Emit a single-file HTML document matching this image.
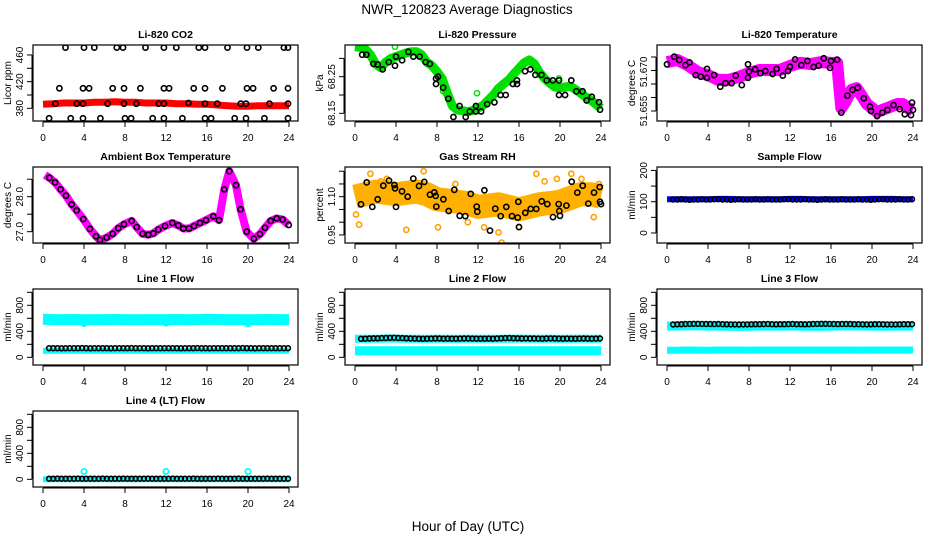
<!DOCTYPE html>
<html><head><meta charset="utf-8"><title>NWR_120823 Average Diagnostics</title>
<style>
html,body{margin:0;padding:0;background:#fff;}
svg{display:block;font-family:"Liberation Sans",Arial,sans-serif;}
</style></head>
<body>
<svg id="chart" width="936" height="540" viewBox="0 0 936 540" xmlns="http://www.w3.org/2000/svg">
<rect x="0" y="0" width="936" height="540" fill="#fff"/>
<text x="467" y="14" text-anchor="middle" font-size="13.5">NWR_120823  Average Diagnostics</text>
<text x="468" y="531" text-anchor="middle" font-size="13.5">Hour of Day (UTC)</text>
</svg>
<script>
// ---------- data ----------
const xTicks = [0,4,8,12,16,20,24];
const bandHours = [0,1,2,3,4,5,6,7,8,9,10,11,12,13,14,15,16,17,18,19,20,21,22,23,24];

const co2Hours = [2.2,4,5,7.2,7.8,10,11.8,13,15.2,15.8,18,19.9,21,23.5,23.9,
 1.6,3.9,4.5,6.8,7.9,9.5,11.8,12.3,14.7,15.8,17.5,19.9,20.5,22.5,23.9,
 1.2,3.3,3.9,6.3,7.9,9.1,11.3,11.8,14.2,15.8,17,19.3,19.8,22.1,23.9,
 0.6,2.7,3.9,5.6,8,8.6,10.7,11.8,13.6,15.8,16.4,18.7,19.8,21.6,23.9];
const co2Vals = [471,471,471,471,471,471,471,471,471,471,471,471,471,471,471,
 410,410,410,410,410,410,410,410,410,410,410,410,410,410,410,
 387,387,387,387,387,387,387,387,388,387,387,387,387,387,387,
 365,365,365,365,365,365,365,365,365,365,365,365,365,365,365];
const co2Band = [386,387,388,388,388,389,389,390,389,389,388,388,388,387,387,386,386,385,384,383,383,384,384,384,384];

const presBandH = [0,0.5,1,1.5,2,2.5,3,3.5,4,4.5,5,5.5,6,6.5,7,7.5,8,8.5,9,9.5,10,10.5,11,11.5,12,12.5,13,13.5,14,14.5,15,15.5,16,16.5,17,17.5,18,18.5,19,19.5,20,20.5,21,21.5,22,22.5,23,23.5,24];
const presBand = [68.332,68.330,68.325,68.31,68.285,68.275,68.29,68.30,68.305,68.31,68.315,68.318,68.318,68.31,68.29,68.28,68.264,68.245,68.205,68.17,68.159,68.157,68.154,68.158,68.164,68.172,68.186,68.2,68.218,68.23,68.241,68.258,68.273,68.288,68.296,68.285,68.262,68.245,68.232,68.222,68.22,68.222,68.224,68.215,68.205,68.195,68.186,68.175,68.164];
const presH = [0.7,1.1,1.8,2.2,2.7,3.3,3.9,4,4.6,5.2,5.7,6.3,6.9,7.3,7.9,7.9,8.1,8.6,9.1,9.6,10.2,10.8,11.2,11.8,11.8,12.3,12.9,13.6,14.2,14.7,15.4,15.8,15.8,16.6,17.1,17.6,18.2,18.7,19.3,19.9,19.9,20.5,21.1,21.6,22.2,22.6,23.1,23.8,23.9];
const presVals = [68.31,68.31,68.285,68.283,68.27,68.29,68.28,68.305,68.295,68.318,68.305,68.305,68.29,68.285,68.245,68.23,68.25,68.22,68.19,68.14,68.17,68.14,68.155,68.17,68.155,68.155,68.175,68.18,68.2,68.2,68.23,68.24,68.23,68.265,68.27,68.255,68.255,68.24,68.24,68.24,68.2,68.2,68.24,68.21,68.21,68.185,68.195,68.18,68.16];
const presOutH = [3.9,8.6,11.9,19.9];
const presOut = [68.332,68.21,68.205,68.245];

const tempBandH = [0,1,2,3,4,5,6,7,8,9,10,11,12,13,14,15,16,16.6,17,17.5,18,18.5,19,19.5,20,20.5,21,21.5,22,22.5,23,23.5,24];
const tempBand = [51.6731,51.6739,51.6720,51.6694,51.6683,51.6665,51.6665,51.6676,51.6691,51.6702,51.6702,51.6702,51.6717,51.6728,51.6724,51.6731,51.6728,51.6728,51.6561,51.6591,51.6628,51.6635,51.6606,51.6576,51.6561,51.6546,51.6554,51.6561,51.6569,51.6576,51.6576,51.6561,51.6554];
const tempH = [0,0.7,1.2,1.8,2.2,2.8,3.3,3.9,3.9,4.6,5.2,5.7,6.3,6.7,7.3,7.9,7.9,8,8.6,9.1,9.6,10.3,10.7,11.3,11.8,12,12.5,13.1,13.7,14.3,14.8,15.3,15.9,16,16.6,17,17.6,18.1,18.6,19.2,19.8,19.9,20.5,21,21.5,22.1,22.7,23.2,23.8,23.9,24];
const tempVals = [51.6723,51.6751,51.6739,51.6720,51.6730,51.6683,51.6677,51.6673,51.6706,51.6683,51.6640,51.6653,51.6653,51.6681,51.6646,51.6673,51.6723,51.6696,51.6704,51.6690,51.6698,51.6687,51.6706,51.6681,51.6698,51.6714,51.6741,51.6720,51.6735,51.6713,51.6718,51.6745,51.6710,51.6735,51.6740,51.6544,51.6607,51.6628,51.6636,51.6597,51.6566,51.6550,51.6531,51.6544,51.6554,51.6572,51.6557,51.6538,51.6535,51.6581,51.6554];

const ambH = [0.2,0.62,1.17,1.72,2.24,2.8,3.28,3.93,4.58,5.17,5.56,6.21,6.8,7.35,7.9,8.65,9.14,9.72,10.28,10.76,11.25,11.9,12.62,13.2,13.69,14.24,14.73,15.32,15.9,16.61,17.17,17.69,18.18,18.83,19.28,19.87,20.58,21.17,21.66,22.21,22.8,23.38,23.97];
const ambVals = [28.62,28.54,28.41,28.21,28.03,27.78,27.61,27.36,27.08,26.87,26.76,26.83,26.94,27.10,27.21,27.31,27.13,26.94,26.91,26.95,27.06,27.16,27.25,27.18,27.09,27.09,27.16,27.25,27.33,27.44,27.33,28.21,28.73,28.33,27.64,27.00,26.80,26.93,27.11,27.31,27.38,27.35,27.19];

const rhBand = [1.10,1.11,1.12,1.115,1.11,1.115,1.12,1.11,1.09,1.085,1.08,1.075,1.06,1.065,1.07,1.06,1.05,1.06,1.07,1.075,1.08,1.095,1.11,1.11,1.10];
const rhOutH = [0.1,0.4,1.5,3.1,5,6.7,8.1,12.6,14,14.3,16,17.7,19.7,21.1,22.1,23.3,2.5,9.8,11,18.5,23.8];
const rhOut = [1.03,0.99,1.19,1.17,0.97,1.20,0.98,0.98,0.96,0.92,0.98,1.19,1.17,1.19,1.17,1.02,1.16,1.15,1.0,1.16,1.15];
const rhH = [0.59,1.14,1.69,2.21,2.76,3.32,3.84,3.9,4.0,4.59,5.14,5.69,6.24,6.76,7.32,7.74,7.87,7.93,8.62,9.14,9.69,10.21,10.76,11.29,11.87,11.93,12.62,13.17,13.69,14.21,14.76,15.32,15.87,15.93,16.0,16.61,17.14,17.69,18.21,18.76,19.32,19.87,19.93,20.0,20.62,21.14,21.69,22.21,22.76,23.32,23.87,23.9,24.0];
const rhVals = [1.070,1.156,1.060,1.090,1.143,1.163,1.146,1.133,1.060,1.121,1.100,1.171,1.142,1.158,1.108,1.117,1.103,1.061,1.090,1.044,1.127,1.025,1.024,1.111,1.061,1.041,1.125,0.967,1.053,1.024,1.060,1.024,1.018,1.080,0.981,1.037,1.052,1.052,1.082,1.071,1.020,1.071,1.044,1.025,1.065,1.159,1.116,1.143,1.073,1.116,1.138,1.080,1.071];

const sampleBand = [108,108,108,108,108,109,109,108,108,108,108,108,109,109,108,108,108,108,108,108,109,109,109,108,108];
const sampleBlack = [107,107,108,107,106,107,107,108,107,107,108,108,107,107,106,107,108,107,107,107,108,107,107,108,107,107,107,108,108,107,107,107,108,107,107,106,107,108,107,107,107,108,107,107,107,108,107,107,106,107,108,108,107,107,107,108,107,107,108];

const line1Upper = [585,580,580,582,578,580,580,582,580,578,580,580,580,582,580,580,585,582,580,580,578,580,582,580,580];
const line1Lower = [100,100,100,100,100,100,100,100,100,100,100,100,100,100,100,100,100,100,100,100,100,100,100,100,100];
const line1OutH = [4,12,20];
const line1Out = [520,525,515];
const line1Black = [140,141,140,139,140,141,140,140,142,140,139,140,141,140,140,139,140,141,140,140,142,141,140,140,139,140,141,140,140,140,141,140,139,140,140,141,142,140,140,139,140,141,140,140,140,141,140,142,140,140,139,140,141,140,140,140,141,140,140];

const line2Upper = [285,285,286,290,288,286,285,284,285,285,284,285,285,285,285,286,288,287,285,285,284,285,285,285,285];
const line2Lower = [100,100,100,100,100,100,100,100,100,100,100,100,100,100,100,100,100,100,100,100,100,100,100,100,100];
const line2Black = [285,287,290,292,293,295,297,300,302,298,295,293,290,288,287,285,286,288,290,289,287,288,287,286,288,289,290,288,287,286,287,288,287,290,292,295,297,294,292,290,291,290,289,288,287,290,291,289,288,287,288,287,286,288,289,288,287,288,290];

const line3Upper = [480,482,485,484,482,480,478,476,478,480,480,481,482,480,479,478,480,484,483,482,480,478,480,480,480];
const line3Lower = [110,110,112,111,110,112,113,112,111,112,113,112,112,113,112,112,111,112,112,111,113,113,112,112,111];
const line3Black = [505,508,510,512,514,515,516,514,513,512,511,512,510,508,507,506,505,506,507,508,509,510,511,512,510,508,509,510,511,512,510,509,508,510,512,514,515,516,514,512,511,512,513,512,510,509,508,507,508,509,510,508,507,506,507,508,509,510,510];

const line4Lower = [0,0,0,0,0,0,0,0,0,0,0,0,0,0,0,0,0,0,0,0,0,0,0,0,0];
const line4OutH = [4,12,20];
const line4Out = [120,120,120];
const line4Black = [10,10,11,10,9,10,10,11,10,10,10,9,10,11,10,10,10,10,11,10,9,10,10,10,11,10,10,10,9,10,11,10,10,10,10,11,10,10,9,10,10,11,10,10,10,10,11,10,10,9,10,10,10,11,10,10,10,10,10];

// ---------- rendering ----------
const NS = 'http://www.w3.org/2000/svg';
const svg = document.getElementById('chart');
function node(tag, parent, attrs) {
  const e = document.createElementNS(NS, tag);
  for (const k in attrs) e.setAttribute(k, attrs[k]);
  parent.appendChild(e);
  return e;
}

function makePanel(c, r, key, title, ylab, ymin, ymax, yticks, ylabels) {
  const L = 33 + 312 * c, R = 298 + 312 * c, T = 45 + 122 * r, B = 121 + 122 * r;
  const g = node('g', svg, {});
  
  
  const x = h => L + 10 + h * 10.25;
  const y = v => B - (v - ymin) / (ymax - ymin) * (B - T);
  const t = node('text', g, {x: (L + R) / 2, y: T - 7, 'text-anchor': 'middle', 'font-size': 10.5, 'font-weight': 'bold'});
  t.textContent = title;
  
  
  const yl = node('text', g, {x: 0, y: 0, 'text-anchor': 'middle', 'font-size': 10, transform: 'translate(' + (L - 22) + ',' + ((T + B) / 2) + ') rotate(-90)'});
  yl.textContent = ylab;
  
  
  const xa = node('g', g, {stroke: '#000', 'stroke-width': 1});
  
  
  node('line', xa, {x1: x(0), x2: x(24), y1: B + 1, y2: B + 1});
  xTicks.forEach(v => {
    node('line', xa, {x1: x(v), x2: x(v), y1: B + 1, y2: B + 6});
    const tl = node('text', g, {x: x(v), y: B + 20, 'text-anchor': 'middle', 'font-size': 10});
    tl.textContent = v;
    
    
  });
  const ya = node('g', g, {stroke: '#000', 'stroke-width': 1});
  
  
  node('line', ya, {x1: L - 1, x2: L - 1, y1: y(yticks[0]), y2: y(yticks[yticks.length - 1])});
  yticks.forEach(v => node('line', ya, {x1: L - 1, x2: L - 6, y1: y(v), y2: y(v)}));
  ylabels.forEach(lab => {
    const tl = node('text', g, {x: 0, y: 0, 'text-anchor': 'middle', 'font-size': 10, transform: 'translate(' + (L - 10) + ',' + y(lab.v) + ') rotate(-90)'});
    tl.textContent = lab.s;
    
    
  });
  const plot = node('g', g, {});
  
  
  const clip = node('clipPath', g, {id: 'clip-' + key});
  node('rect', clip, {x: L, y: T, width: R - L, height: B - T});
  plot.setAttribute('clip-path', 'url(#clip-' + key + ')');
  const box = node('rect', g, {x: L, y: T, width: R - L, height: B - T, fill: 'none', stroke: '#000', 'stroke-width': 1.2});
  
  
  return {x, y, plot};
}

function band(p, key, hours, vals, color, width) {
  const pts = hours.map((h, i) => p.x(h).toFixed(1) + ',' + p.y(vals[i]).toFixed(1)).join(' ');
  const pl = node('polyline', p.plot, {points: pts, fill: 'none', stroke: color, 'stroke-width': width, 'stroke-linejoin': 'round', 'stroke-linecap': 'butt'});
  
  
}
function points(p, key, hours, vals, color, r, sw) {
  const g = node('g', p.plot, {fill: 'none', stroke: color, 'stroke-width': sw});
  
  
  vals.forEach((v, i) => {
    const ci = node('circle', g, {cx: p.x(hours[i]).toFixed(1), cy: p.y(v).toFixed(1), r: r});
    
    
  });
}
function spanHours(n) { return Array.from({length: n}, (_, i) => 0.6 + i * 23.3 / (n - 1)); }

// Panel 1 CO2
let p = makePanel(0, 0, 'co2', 'Li-820 CO2', 'Licor ppm', 361, 474.95, [380,400,420,440,460], [{v:380,s:'380'},{v:420,s:'420'},{v:460,s:'460'}]);
band(p, 'co2-band', bandHours, co2Band, '#ff0000', 7);
points(p, 'co2-points', co2Hours, co2Vals, '#000', 2.6, 1.6);

// Panel 2 Pressure
p = makePanel(1, 0, 'pressure', 'Li-820 Pressure', 'kPa', 68.129, 68.3366, [68.15,68.2,68.25,68.3], [{v:68.15,s:'68.15'},{v:68.25,s:'68.25'}]);
band(p, 'pressure-band', presBandH, presBand, '#00e000', 9);
points(p, 'pressure-outliers', presOutH, presOut, '#00e000', 2.6, 1.5);
points(p, 'pressure-points', presH, presVals, '#000', 2.6, 1.6);

// Panel 3 Li-820 temperature
p = makePanel(2, 0, 'li820-temp', 'Li-820 Temperature', 'degrees C', 51.6513, 51.67944, [51.655,51.66,51.665,51.67,51.675], [{v:51.655,s:'51.655'},{v:51.6695,s:'51.670'}]);
band(p, 'li820-temp-band', tempBandH, tempBand, '#ff00ff', 12);
points(p, 'li820-temp-points', tempH, tempVals, '#000', 2.6, 1.6);

// Panel 4 Ambient
p = makePanel(0, 1, 'ambient', 'Ambient Box Temperature', 'degrees C', 26.677, 28.849, [27,27.5,28,28.5], [{v:27,s:'27.0'},{v:28,s:'28.0'}]);
band(p, 'ambient-band', ambH, ambVals, '#ff00ff', 8);
points(p, 'ambient-points', ambH.slice(1), ambVals.slice(1), '#000', 2.6, 1.6);

// Panel 5 RH
p = makePanel(1, 1, 'rh', 'Gas Stream RH', 'percent', 0.9184, 1.2165, [0.95,1.0,1.05,1.1,1.15,1.2], [{v:0.95,s:'0.95'},{v:1.1,s:'1.10'}]);
band(p, 'rh-band', bandHours, rhBand, '#ffb000', 24);
points(p, 'rh-outliers', rhOutH, rhOut, '#ffa000', 2.6, 1.6);
points(p, 'rh-points', rhH, rhVals, '#000', 2.6, 1.6);

// Panel 6 Sample flow
p = makePanel(2, 1, 'sample-flow', 'Sample Flow', 'ml/min', -32, 211, [0,50,100,150,200], [{v:0,s:'0'},{v:100,s:'100'},{v:200,s:'200'}]);
band(p, 'sample-flow-band', bandHours, sampleBand, '#0000ff', 6);
points(p, 'sample-flow-points', spanHours(sampleBlack.length), sampleBlack, '#000', 2.4, 1.6);

const flowTicks = [0,200,400,600,800,1000];
const flowLabels = [{v:0,s:'0'},{v:400,s:'400'},{v:800,s:'800'}];
// Line 1
p = makePanel(0, 2, 'line1-flow', 'Line 1 Flow', 'ml/min', -118, 1051, flowTicks, flowLabels);
band(p, 'line1-upper-band', bandHours, line1Upper, '#00ffff', 11);
band(p, 'line1-lower-band', bandHours, line1Lower, '#00ffff', 6);
points(p, 'line1-outliers', line1OutH, line1Out, '#00ffff', 2.6, 1.8);
points(p, 'line1-points', spanHours(line1Black.length), line1Black, '#000', 2.4, 1.6);
// Line 2
p = makePanel(1, 2, 'line2-flow', 'Line 2 Flow', 'ml/min', -118, 1051, flowTicks, flowLabels);
band(p, 'line2-upper-band', bandHours, line2Upper, '#00ffff', 8);
band(p, 'line2-lower-band', bandHours, line2Lower, '#00ffff', 9);
points(p, 'line2-points', spanHours(line2Black.length), line2Black, '#000', 2.4, 1.6);
// Line 3
p = makePanel(2, 2, 'line3-flow', 'Line 3 Flow', 'ml/min', -118, 1051, flowTicks, flowLabels);
band(p, 'line3-upper-band', bandHours, line3Upper, '#00ffff', 9);
band(p, 'line3-lower-band', bandHours, line3Lower, '#00ffff', 7);
points(p, 'line3-points', spanHours(line3Black.length), line3Black, '#000', 2.4, 1.6);
// Line 4
p = makePanel(0, 3, 'line4-flow', 'Line 4 (LT) Flow', 'ml/min', -118, 1051, flowTicks, flowLabels);
band(p, 'line4-band', bandHours, line4Lower, '#00ffff', 6);
points(p, 'line4-outliers', line4OutH, line4Out, '#00ffff', 2.6, 1.8);
points(p, 'line4-points', spanHours(line4Black.length), line4Black, '#000', 2.4, 1.6);
</script>
</body></html>
